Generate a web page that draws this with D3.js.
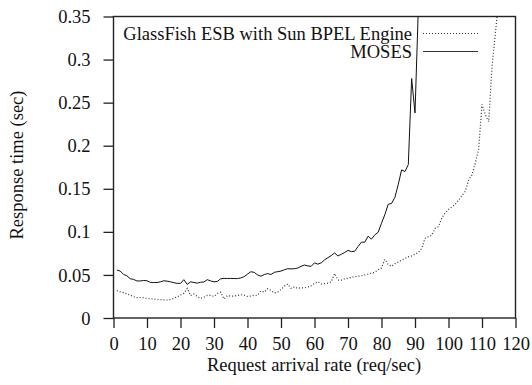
<!DOCTYPE html>
<html><head><meta charset="utf-8">
<script src="https://cdn.jsdelivr.net/npm/d3@7"></script>
<style>
body{margin:0;background:#fff;}
svg text{font-family:"Liberation Serif","Times New Roman",serif;fill:#111;}
</style></head>
<body><svg id="chart" width="532" height="385"></svg>
<script>
const xTicks = [0,10,20,30,40,50,60,70,80,90,100,110,120];
const yTicks = [0,0.05,0.1,0.15,0.2,0.25,0.3,0.35];
const yTickLabels = ["0","0.05","0.1","0.15","0.2","0.25","0.3","0.35"];
const seriesNames = ["GlassFish ESB with Sun BPEL Engine","MOSES"];

const glassfishRate = [];
for (let i = 1; i <= 115; i++) glassfishRate.push(i);
const glassfishTime = [
0.0317,0.0305,0.0294,0.0280,0.0267,0.0247,0.0236,0.0238,0.0236,0.0228,
0.0222,0.0220,0.0215,0.0213,0.0210,0.0209,0.0215,0.0228,0.0245,0.0267,
0.0286,0.0344,0.0260,0.0278,0.0250,0.0228,0.0240,0.0262,0.0262,0.0250,
0.0285,0.0300,0.0220,0.0260,0.0255,0.0255,0.0262,0.0270,0.0265,0.0250,
0.0255,0.0262,0.0265,0.0313,0.0300,0.0340,0.0320,0.0290,0.0300,0.0330,
0.0370,0.0395,0.0345,0.0360,0.0345,0.0352,0.0350,0.0360,0.0375,0.0400,
0.0420,0.0395,0.0400,0.0405,0.0420,0.0517,0.0440,0.0440,0.0455,0.0460,
0.0470,0.0480,0.0485,0.0490,0.0500,0.0510,0.0520,0.0530,0.0560,0.0580,
0.0680,0.0620,0.0600,0.0630,0.0650,0.0670,0.0690,0.0710,0.0720,0.0740,
0.0760,0.0808,0.0925,0.0945,0.0960,0.1040,0.1060,0.1160,0.1220,0.1260,
0.1290,0.1320,0.1370,0.1420,0.1470,0.1600,0.1660,0.1800,0.1960,0.2480,
0.2360,0.2280,0.2920,0.3310,0.3700];

const mosesRate = [];
for (let i = 1; i <= 91; i++) mosesRate.push(i);
const mosesTime = [
0.0556,0.0545,0.0506,0.0490,0.0456,0.0448,0.0430,0.0430,0.0436,0.0432,
0.0413,0.0412,0.0412,0.0420,0.0432,0.0428,0.0420,0.0410,0.0402,0.0402,
0.0445,0.0390,0.0420,0.0412,0.0405,0.0415,0.0418,0.0445,0.0430,0.0420,
0.0425,0.0455,0.0460,0.0458,0.0460,0.0458,0.0458,0.0465,0.0480,0.0510,
0.0537,0.0530,0.0500,0.0485,0.0505,0.0515,0.0505,0.0530,0.0538,0.0545,
0.0560,0.0572,0.0570,0.0572,0.0580,0.0600,0.0615,0.0605,0.0600,0.0640,
0.0625,0.0640,0.0675,0.0700,0.0725,0.0755,0.0720,0.0740,0.0760,0.0785,
0.0770,0.0775,0.0830,0.0880,0.0880,0.0950,0.0915,0.0965,0.0995,0.1100,
0.1200,0.1320,0.1330,0.1400,0.1550,0.1720,0.1700,0.1780,0.2780,0.2380,
0.3600];

const FONT = '"Liberation Serif","Times New Roman",serif';
const FS = 18.5;
const svg = d3.select("#chart");
const L = 113.5, R = 515.5, T = 16.5, B = 318;
const x = d3.scaleLinear().domain([0,120]).range([L,R]);
const y = d3.scaleLinear().domain([0,0.35]).range([B,T]);

svg.append("defs").append("clipPath").attr("id","clip")
  .append("rect").attr("x",L).attr("y",T).attr("width",R-L).attr("height",B-T);

// axes
const xAxis = d3.axisBottom(x).tickValues(xTicks).tickFormat(d3.format("d")).tickSize(10).tickSizeOuter(0).tickPadding(9);
const yAxis = d3.axisLeft(y).tickValues(yTicks).tickFormat((d,i)=>yTickLabels[i]).tickSize(10).tickSizeOuter(0).tickPadding(13);

const gx = svg.append("g").attr("transform",`translate(0,${B})`).call(xAxis);
const gy = svg.append("g").attr("transform",`translate(${L},0)`).call(yAxis);
[gx,gy].forEach(g=>{
  g.attr("font-family",FONT).attr("font-size",FS);
  g.selectAll("text").attr("font-size",FS).attr("fill","#111");
  g.selectAll("line").attr("stroke","#222").attr("stroke-width",1.3);
  g.select(".domain").remove();
});
gy.selectAll("text").attr("dy","0.33em");

// frame
svg.append("rect").attr("x",L).attr("y",T).attr("width",R-L).attr("height",B-T)
  .attr("fill","none").attr("stroke","#222").attr("stroke-width",1.4);

// lines
const line = (xs)=>d3.line().x((d,i)=>x(xs[i])).y(d=>y(d));
const plot = svg.append("g").attr("clip-path","url(#clip)");
plot.append("path").datum(glassfishTime).attr("d",line(glassfishRate))
  .attr("fill","none").attr("stroke","#333").attr("stroke-width",1.2).attr("stroke-dasharray","1,2");
plot.append("path").datum(mosesTime).attr("d",line(mosesRate))
  .attr("fill","none").attr("stroke","#111").attr("stroke-width",1);

// legend
const leg = svg.append("g");
const legY = [40, 58];
seriesNames.forEach((n,i)=>{
  leg.append("text").attr("x",412).attr("y",legY[i]).attr("text-anchor","end")
    .attr("font-size",FS).text(n);
  leg.append("line").attr("x1",423).attr("x2",478).attr("y1",legY[i]-6.5).attr("y2",legY[i]-6.5)
    .attr("stroke","#333").attr("stroke-width",i===0?1.2:1)
    .attr("stroke-dasharray",i===0?"1,2":null);
});

// axis titles
svg.append("text").attr("x",314).attr("y",371).attr("text-anchor","middle")
  .attr("font-size",FS).text("Request arrival rate (req/sec)");
svg.append("text").attr("transform","translate(23,165) rotate(-90)").attr("text-anchor","middle")
  .attr("font-size",FS).text("Response time (sec)");
</script></body></html>
